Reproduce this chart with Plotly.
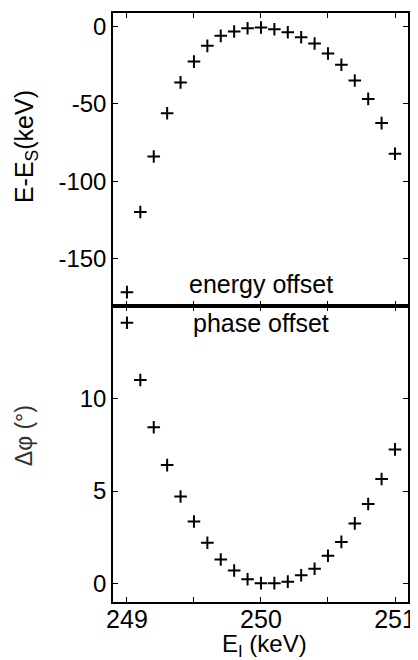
import plotly.graph_objects as go
from plotly.subplots import make_subplots

# Data
e_injection = [249.0, 249.1, 249.2, 249.3, 249.4, 249.5, 249.6, 249.7, 249.8, 249.9, 250.0,
               250.1, 250.2, 250.3, 250.4, 250.5, 250.6, 250.7, 250.8, 250.9, 251.0]
energy_offset = [-172, -120, -84, -56, -36, -22.5, -12.3, -5.8, -3.0, -0.9, -0.4,
                 -1.5, -3.5, -6.7, -10.8, -17.3, -24.6, -34.8, -46.7, -62.4, -82.3]
phase_offset = [14.1, 11.0, 8.45, 6.4, 4.7, 3.35, 2.2, 1.3, 0.7, 0.23, 0.02,
                0.02, 0.1, 0.45, 0.8, 1.5, 2.25, 3.25, 4.3, 5.65, 7.25]

x_tickvals = [249, 249.5, 250, 250.5, 251]
x_ticktext = ["249", "", "250", "", "251"]
y1_tickvals = [0, -50, -100, -150]
y1_ticktext = ["0", "-50", "-100", "-150"]
y2_tickvals = [0, 5, 10]
y2_ticktext = ["0", "5", "10"]

FONT = "Liberation Sans, Arial, sans-serif"

fig = make_subplots(rows=2, cols=1, shared_xaxes=True, vertical_spacing=0)

marker = dict(symbol="cross-thin", size=9, color="black", line=dict(color="black", width=2))
fig.add_trace(go.Scatter(x=e_injection, y=energy_offset, mode="markers", marker=marker,
                         showlegend=False), row=1, col=1)
fig.add_trace(go.Scatter(x=e_injection, y=phase_offset, mode="markers", marker=marker,
                         showlegend=False), row=2, col=1)

axis_common = dict(showline=True, linecolor="black", linewidth=1.5, mirror="ticks",
                   ticks="inside", ticklen=5, tickwidth=1.2, tickcolor="black",
                   showgrid=False, zeroline=False, automargin=False)

fig.update_xaxes(range=[248.896, 251.097], tickvals=x_tickvals, ticktext=x_ticktext,
                 ticklabelstandoff=-6, tickfont=dict(family=FONT, size=25, color="black"),
                 **axis_common)
fig.update_xaxes(showticklabels=False, row=1, col=1)

fig.update_yaxes(range=[-181, 9], tickvals=y1_tickvals, ticktext=y1_ticktext, domain=[0.5025, 1],
                 tickfont=dict(family=FONT, size=24, color="black"),
                 row=1, col=1, **axis_common)
fig.update_yaxes(range=[-1, 15], tickvals=y2_tickvals, ticktext=y2_ticktext, domain=[0, 0.5025],
                 tickfont=dict(family=FONT, size=24, color="black"),
                 row=2, col=1, **axis_common)

ann = dict(xref="paper", yref="paper", showarrow=False, xanchor="center", yanchor="middle")
# Axis titles and panel labels
fig.add_annotation(text="E-E<sub>S</sub>(keV)", x=-0.295, y=0.774, textangle=-90,
                   font=dict(family=FONT, size=25, color="black"), **ann)
fig.add_annotation(text="Δφ (°)", x=-0.302, y=0.283, textangle=-90,
                   font=dict(family=FONT, size=23, color="#333333"), **ann)
fig.add_annotation(text="E<sub>I</sub> (keV)", x=0.512, y=-0.0745,
                   font=dict(family=FONT, size=24, color="black"), **ann)
fig.add_annotation(text="energy offset", x=250, xref="x", y=0.540, yref="paper",
                   xanchor="center", yanchor="middle", showarrow=False,
                   font=dict(family=FONT, size=25, color="black"))
fig.add_annotation(text="phase offset", x=250, xref="x", y=0.473, yref="paper",
                   xanchor="center", yanchor="middle", showarrow=False,
                   font=dict(family=FONT, size=25, color="black"))

# The page body adds an 8 px offset, so the figure is sized and margined to compensate
fig.update_layout(width=410, height=652, margin=dict(l=105, r=10, t=5, b=58),
                  paper_bgcolor="white", plot_bgcolor="white",
                  font=dict(family=FONT, color="black"))

fig.write_html("out.html")
